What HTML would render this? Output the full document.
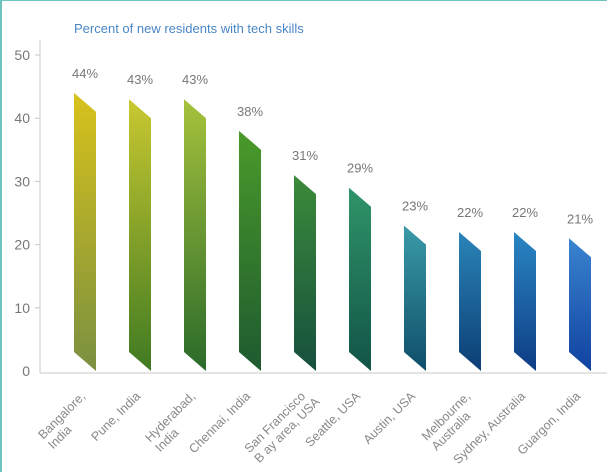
<!DOCTYPE html>
<html><head><meta charset="utf-8">
<style>
html,body{margin:0;padding:0;background:#fff;}
body{width:607px;height:473px;overflow:hidden;position:relative;font-family:"Liberation Sans","DejaVu Sans",sans-serif;}
#frame{position:absolute;left:0;top:0;width:605px;height:471px;border-left:2px solid #6cc3c0;border-top:1px solid #6cc3c0;}
</style></head><body>
<div id="frame"></div>
<svg id="chart" width="607" height="473" style="position:absolute;left:0;top:0">
<text x="74" y="33" font-size="13" fill="#4a86c5">Percent of new residents with tech skills</text>
</svg>
<script>
const categories=[["Bangalore,","India"],["Pune, India"],["Hyderabad,","India"],["Chennai,  India"],["San Francisco","B ay area, USA"],["Seattle, USA"],["Austin, USA"],["Melbourne,","Australia"],["Sydney, Australia"],["Guargon, India"]];
const values=[44,43,43,38,31,29,23,22,22,21];
const valueLabels=["44%","43%","43%","38%","31%","29%","23%","22%","22%","21%"];
const yTicks=[0,10,20,30,40,50];
const topColors=["#d8c21c","#c9c830","#a6c23c","#4a9a2a","#3c8a3a","#2f9468","#3a9aa8","#2a84b8","#2a86c4","#3a84d0"];
const bottomColors=["#7a9040","#3f7a22","#2a6a2a","#1e5a30","#16503e","#125448","#0f4e6a","#0c3e74","#0e3c84","#1042a0"];
const svg=document.getElementById('chart');
const NS='http://www.w3.org/2000/svg';
const y0=371,pxPer=6.32;
function yScale(v){return y0-v*pxPer;}
function xScale(i){return 74+i*55;}
const bw=22,slant=19;
function mk(t,a){const e=document.createElementNS(NS,t);for(const k in a)e.setAttribute(k,a[k]);return e;}
const defs=mk('defs',{});svg.appendChild(defs);
const ax=mk('line',{x1:40,y1:40,x2:40,y2:373,stroke:'#c8c8c8','stroke-width':1});


svg.appendChild(ax);
const bx=mk('line',{x1:40,y1:373,x2:607,y2:373,stroke:'#c8c8c8','stroke-width':1});


svg.appendChild(bx);
yTicks.forEach(t=>{
  const y=yScale(t);
  if(t>0){const tk=mk('line',{x1:35,y1:y,x2:40,y2:y,stroke:'#c8c8c8'});
  
  
  svg.appendChild(tk);}
  const tx=mk('text',{x:30,y:y+5,'font-size':14,fill:'#777','text-anchor':'end'});
  tx.textContent=t;
  
  
  svg.appendChild(tx);
});
values.forEach((v,i)=>{
  const g=mk('linearGradient',{id:'g'+i,x1:0,y1:0,x2:0,y2:1});
  g.appendChild(mk('stop',{offset:'0','stop-color':topColors[i]}));
  g.appendChild(mk('stop',{offset:'1','stop-color':bottomColors[i]}));
  defs.appendChild(g);
  const L=xScale(i),R=L+bw,yt=yScale(v);
  const p=mk('polygon',{points:`${L},${yt} ${R},${yt+slant} ${R},${y0} ${L},${y0-slant}`,fill:`url(#g${i})`});
  
  
  svg.appendChild(p);
  const lb=mk('text',{x:L+bw/2,y:yt-15,'font-size':13,fill:'#777','text-anchor':'middle'});
  lb.textContent=valueLabels[i];
  
  
  svg.appendChild(lb);
  const cx=L+bw/2+1,cy=397;
  const ct=mk('text',{transform:`translate(${cx},${cy}) rotate(-45)`,'font-size':12.5,fill:'#888','text-anchor':'end'});
  const spans=[];
  categories[i].forEach((ln,j)=>{const ts=mk('tspan',{x:0,dy:j?14:0});ts.textContent=ln;ct.appendChild(ts);spans.push(ts);});
  
  
  svg.appendChild(ct);
  if(spans.length>1){
    const w0=spans[0].getComputedTextLength();
    for(let j=1;j<spans.length;j++){const wj=spans[j].getComputedTextLength();spans[j].setAttribute('x',-(w0-wj));}
  }
});
</script>
</body></html>
